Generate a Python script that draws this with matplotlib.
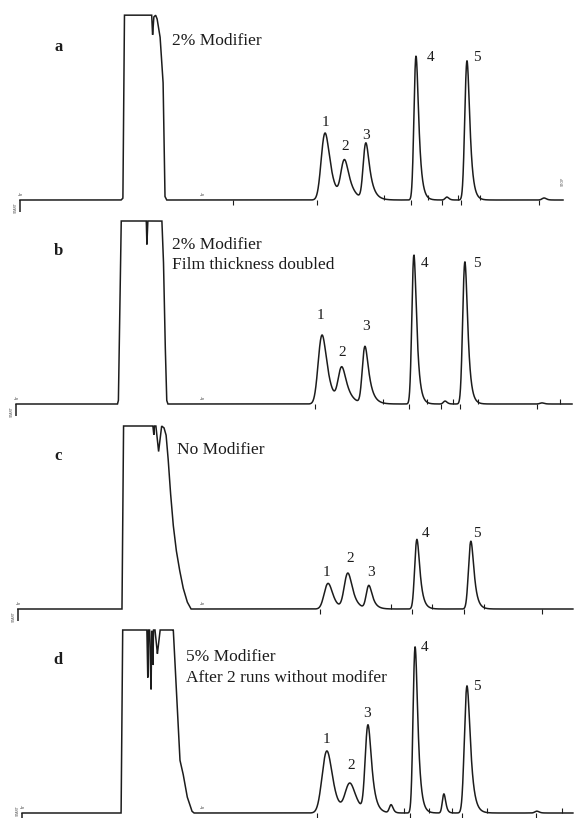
import math
import numpy as np
import matplotlib
matplotlib.use("Agg")
import matplotlib.pyplot as plt

# retention time in min, detector signal in arbitrary units (100 = saturated)

# ---- panel a : 2% modifier
solv_a_t = [3.37, 3.43, 3.48, 4.39, 4.42, 4.46, 4.52, 4.57, 4.67, 4.77, 4.83, 4.89]
solv_a_s = [0, 1, 101, 101, 90, 100, 101, 99, 89, 64, 2, 0]
rt_a = [10.17, 10.82, 11.53, 13.20, 14.23, 14.90, 17.47]
h_a = [36.6, 20.8, 30.6, 78.7, 1.6, 76.0, 1.1]
sig_a = [0.105, 0.095, 0.07, 0.055, 0.05, 0.06, 0.06]
tau_a = [0.17, 0.18, 0.14, 0.09, 0.05, 0.09, 0.05]
tick_up_a = [12.13, 13.60, 14.60, 15.33]
tick_dn_a = [7.10, 9.90, 13.03, 14.07, 14.70, 17.30]

# ---- panel b : 2% modifier, film thickness doubled
solv_b_t = [3.25, 3.28, 3.37, 4.21, 4.23, 4.26, 4.73, 4.78, 4.83, 4.89, 4.93]
solv_b_s = [0, 2, 100, 100, 87, 100, 100, 80, 39, 2, 0]
rt_b = [10.07, 10.73, 11.50, 13.13, 14.17, 14.83, 17.40]
h_b = [37.7, 19.1, 31.1, 81.4, 1.6, 77.6, 0.6]
sig_b = [0.105, 0.095, 0.07, 0.055, 0.05, 0.06, 0.06]
tau_b = [0.17, 0.18, 0.14, 0.09, 0.05, 0.09, 0.05]
tick_up_b = [12.10, 13.57, 14.43, 15.27, 18.00]
tick_dn_b = [9.83, 12.97, 14.03, 14.67, 17.23]

# ---- panel c : no modifier
solv_c_t = [3.40, 3.45, 4.43, 4.46, 4.48, 4.53, 4.62, 4.72, 4.80, 4.87, 4.93, 5.00,
            5.10, 5.20, 5.30, 5.43, 5.57, 5.70]
solv_c_s = [0, 100, 100, 95, 100, 100, 86, 100, 99, 95, 84, 67,
            47, 33, 23, 12, 4, 0]
rt_c = [10.27, 10.93, 11.63, 13.23, 15.03]
h_c = [14.0, 19.4, 12.6, 38.0, 37.0]
sig_c = [0.11, 0.10, 0.07, 0.06, 0.065]
tau_c = [0.14, 0.15, 0.12, 0.10, 0.10]
tick_up_c = [12.37, 13.73, 15.47]
tick_dn_c = [10.00, 13.07, 14.80, 17.40]

# ---- panel d : 5% modifier after 2 runs without
solv_d_t = [3.37, 3.42, 4.23, 4.26, 4.28, 4.32, 4.34, 4.37, 4.39, 4.41, 4.43, 4.45,
            4.50, 4.58, 4.67, 4.72, 5.08, 5.11, 5.33, 5.43, 5.57, 5.73, 5.80]
solv_d_s = [0, 100, 100, 73, 100, 100, 85, 67, 100, 95, 80, 100,
            100, 87, 100, 100, 100, 100, 29, 22, 9, 1, 0]
rt_d = [10.23, 11.00, 11.60, 12.37, 13.17, 14.13, 14.90, 17.23]
h_d = [33.9, 15.8, 47.0, 4.4, 90.7, 10.4, 69.4, 1.0]
sig_d = [0.135, 0.13, 0.075, 0.05, 0.055, 0.045, 0.07, 0.06]
tau_d = [0.16, 0.19, 0.12, 0.05, 0.09, 0.05, 0.11, 0.05]
tick_up_d = [12.80, 13.63, 14.40, 15.57, 18.07]
tick_dn_d = [9.90, 13.00, 14.73, 17.20]

# peak numbers 1-5 (label positions)
lab_a = [(10.17, 42.1), (10.83, 29.0), (11.53, 35.5), (13.67, 78.1), (15.23, 78.1)]
lab_b = [(10.03, 48.6), (10.73, 27.9), (11.53, 42.1), (13.50, 77.0), (15.23, 77.0)]
lab_c = [(10.20, 20.0), (11.00, 27.6), (11.70, 20.0), (13.53, 41.5), (15.23, 41.5)]
lab_d = [(10.23, 40.4), (11.03, 26.2), (11.57, 54.6), (13.50, 90.2), (15.23, 68.9)]

letters = ["a", "b", "c", "d"]
captions = [["2% Modifier"],
            ["2% Modifier", "Film thickness doubled"],
            ["No Modifier"],
            ["5% Modifier", "After 2 runs without modifer"]]
starts = [0.0, -0.13, -0.07, 0.07]
ends = [18.10, 18.40, 18.43, 18.43]
baselines_px = [200, 404, 609, 813]

erfc = np.vectorize(math.erfc)


def emg_peak(t, rt, h, sigma, tau):
    u = np.linspace(-1.0, 2.0, 3000)
    z = (sigma / tau - u / sigma) / np.sqrt(2)
    g = np.exp(sigma ** 2 / (2 * tau ** 2) - u / tau) * erfc(z)
    g = g / g.max() * h
    u0 = u[np.argmax(g)]
    return np.interp(t - rt + u0, u, g, left=0, right=0)


W, H = 574, 818
fig = plt.figure(figsize=(W / 100, H / 100), dpi=100)
px_per_unit = 1.83
px_per_min = 30.0
t_left = -20 / px_per_min
t_right = (W - 20) / px_per_min

panels = [
    (solv_a_t, solv_a_s, rt_a, h_a, sig_a, tau_a, tick_up_a, tick_dn_a, lab_a),
    (solv_b_t, solv_b_s, rt_b, h_b, sig_b, tau_b, tick_up_b, tick_dn_b, lab_b),
    (solv_c_t, solv_c_s, rt_c, h_c, sig_c, tau_c, tick_up_c, tick_dn_c, lab_c),
    (solv_d_t, solv_d_s, rt_d, h_d, sig_d, tau_d, tick_up_d, tick_dn_d, lab_d),
]

serif = "Liberation Serif"
col = "#1c1c1c"

for i, (st, ss, rts, hs, sgs, tas, tup, tdn, labs) in enumerate(panels):
    yb = baselines_px[i]
    ax = fig.add_axes([0, 1 - (yb + 12) / H, 1, 204 / H])
    ax.set_xlim(t_left, t_right)
    ax.set_ylim(-12 / px_per_unit, 192 / px_per_unit)
    ax.axis("off")

    t = np.linspace(starts[i], ends[i], 8000)
    y = np.interp(t, st, ss, left=0, right=0)
    for rt, h, sg, ta in zip(rts, hs, sgs, tas):
        y = y + emg_peak(t, rt, h, sg, ta)
    ax.plot(t, y, color=col, lw=1.1, solid_joinstyle="miter")

    # start mark and integrator event marks
    ax.vlines(starts[i], -7, 0, color=col, lw=1.1)
    ax.vlines(tup, 0, 2.8, color=col, lw=0.8)
    ax.vlines(tdn, -2.5, 0, color=col, lw=0.8)
    start_s = -4 if i < 3 else 1.5
    ax.text(starts[i] - 0.15, start_s, "START", fontsize=2.5, rotation=90,
            ha="center", va="center", color="#555555")
    ax.text(starts[i] + 0.05, 4, "tr", fontsize=3.5, rotation=90,
            ha="center", va="center", color="#555555")
    ax.text(6.1, 4, "tr", fontsize=3.5, rotation=90,
            ha="center", va="center", color="#555555")

    ax.text(1.28, 83.5, letters[i], fontsize=12, fontweight="bold",
            family=serif, ha="center", va="center", color=col)
    cap_t = 5.07 if i < 2 else (5.23 if i == 2 else 5.53)
    cap_s = [87.0, 86.9, 86.9, 85.2][i]
    for k, line in enumerate(captions[i]):
        ax.text(cap_t, cap_s - k * 11.2, line, fontsize=12.5, family=serif,
                ha="left", va="center", color=col)
    for n, (lt, ls) in enumerate(labs):
        ax.text(lt, ls, str(n + 1), fontsize=11, family=serif,
                ha="center", va="center", color=col)

    if i == 0:
        ax.text(18.1, 10, "STOP", fontsize=2.5, rotation=90,
                ha="center", va="center", color="#555555")

fig.savefig("out.png", dpi=100)
